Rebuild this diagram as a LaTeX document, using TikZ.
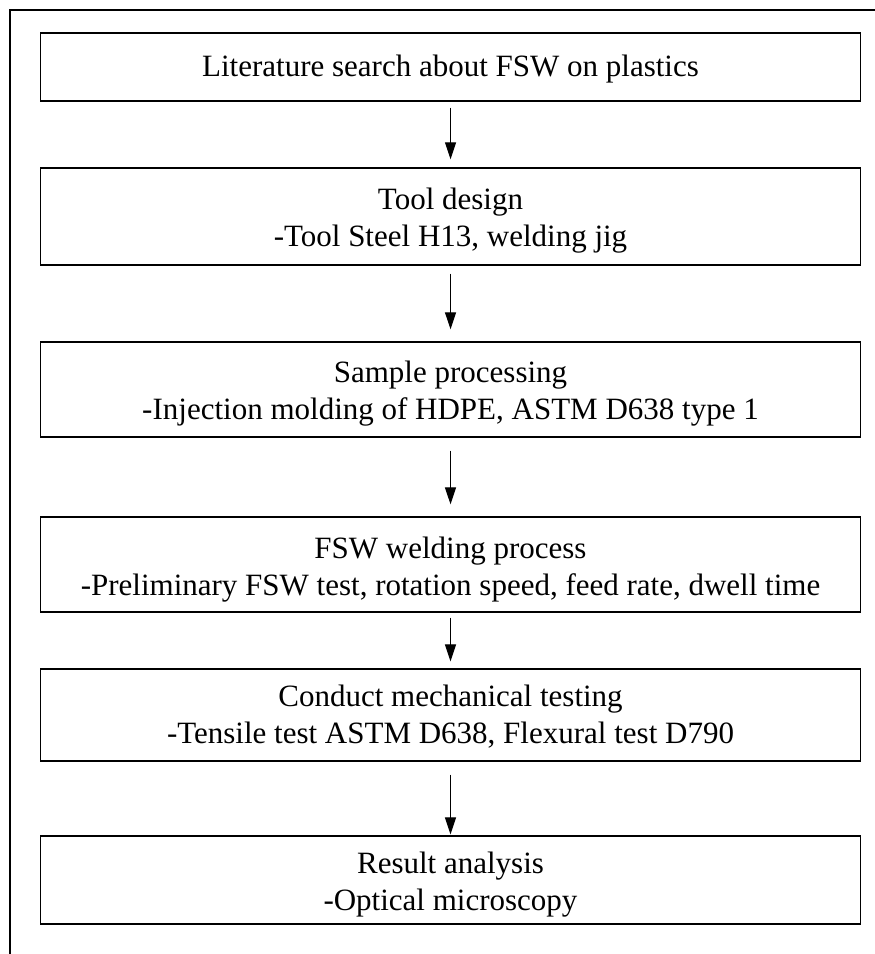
\documentclass[tikz,border=0pt]{standalone}
\usepackage{fontspec}
\setmainfont{Liberation Serif}
\usetikzlibrary{arrows.meta}
\begin{document}
\begin{tikzpicture}[x=1pt,y=-1pt,
  stepbox/.style={draw, line width=1.4pt, minimum width=820pt, inner sep=0pt},
  steptext/.style={align=center, inner sep=0pt, font=\fontsize{31}{37}\selectfont},
  flow/.style={line width=1.1pt, -{Triangle[length=17pt,width=11pt]}}]
\useasboundingbox (0,0) rectangle (875,954);
\draw[line width=1.3pt] (875,10) -- (10,10) -- (10,954);
\node[stepbox, minimum height=68pt]  (b1) at (450.5,67)   {};
\node[stepbox, minimum height=97pt]  (b2) at (450.5,216.5) {};
\node[stepbox, minimum height=95pt]  (b3) at (450.5,389.5) {};
\node[stepbox, minimum height=95pt]  (b4) at (450.5,564.5) {};
\node[stepbox, minimum height=92pt]  (b5) at (450.5,715)   {};
\node[stepbox, minimum height=88pt]  (b6) at (450.5,880)   {};
\node[steptext, yshift=-2pt] (t1) at (b1.center) {Literature search about FSW on plastics};
\node[steptext, yshift=-4pt] (t2) at (b2.center) {Tool design\\-Tool Steel H13, welding jig};
\node[steptext, yshift=-4pt] (t3) at (b3.center) {Sample processing\\-Injection molding of HDPE, ASTM D638 type 1};
\node[steptext, yshift=-5pt] (t4) at (b4.center) {FSW welding process\\-Preliminary FSW test, rotation speed, feed rate, dwell time};
\node[steptext, yshift=-2pt] (t5) at (b5.center) {Conduct mechanical testing\\-Tensile test ASTM D638, Flexural test D790};
\node[steptext, yshift=-5pt] (t6) at (b6.center) {Result analysis\\-Optical microscopy};
\draw[flow, shorten <=6pt, shorten >=8pt] (b1.south) -- (b2.north);
\draw[flow, shorten <=8pt, shorten >=12pt] (b2.south) -- (b3.north);
\draw[flow, shorten <=13pt, shorten >=12pt] (b3.south) -- (b4.north);
\draw[flow, shorten <=5pt, shorten >=7pt] (b4.south) -- (b5.north);
\draw[flow, shorten <=13pt, shorten >=1pt] (b5.south) -- (b6.north);
\end{tikzpicture}
\end{document}
